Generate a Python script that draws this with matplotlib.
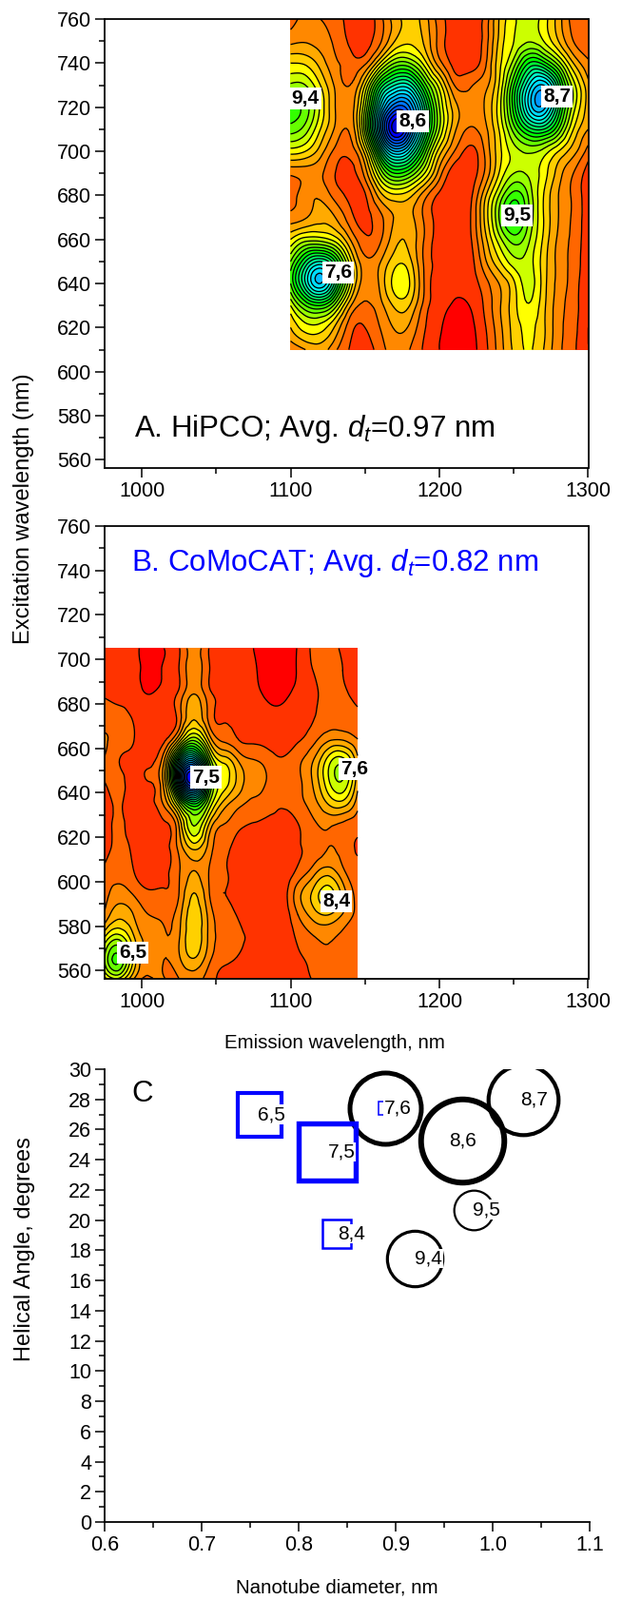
import matplotlib
matplotlib.use("Agg")
import matplotlib.pyplot as plt
import matplotlib.tri as mtri
import numpy as np
from matplotlib.ticker import MultipleLocator

plt.rcParams['font.family'] = ['Liberation Sans', 'DejaVu Sans']
plt.rcParams['mathtext.fontset'] = 'custom'
plt.rcParams['mathtext.rm'] = 'Liberation Sans'
plt.rcParams['mathtext.it'] = 'Liberation Sans:italic'

W, H = 654, 1682

# panel A, intensity (level number)
a_x = [1100, 1110, 1120, 1130, 1140, 1150, 1160, 1170, 1180, 1190, 1200,
       1210, 1220, 1230, 1240, 1250, 1260, 1270, 1280, 1290, 1300]
a_y = [760, 750, 740, 730, 720, 710, 700, 690, 680, 670, 660, 650, 640, 630, 620, 610]
a_z = [
    [2.5, 3.3, 3.0, 2.5, 1.6, 1.4, 2.6, 4.5, 5.3, 4.5, 2.5, 1.6, 1.4, 2.2, 5.0, 6.8, 7.6, 6.5, 4.5, 2.6, 2.2],
    [3.7, 3.9, 3.5, 2.8, 1.8, 1.6, 2.8, 5.0, 5.8, 4.8, 2.6, 1.5, 1.3, 2.3, 5.2, 7.0, 7.9, 7.0, 5.0, 3.0, 2.4],
    [6.0, 5.8, 4.6, 3.2, 2.5, 2.8, 6.0, 9.0, 9.0, 6.5, 3.4, 1.7, 1.5, 2.6, 5.6, 8.5, 12.0, 11.5, 8.5, 5.0, 3.2],
    [8.2, 8.0, 6.0, 3.8, 3.0, 6.0, 12.0, 15.0, 15.0, 10.5, 6.5, 3.0, 2.8, 3.6, 6.0, 11.0, 16.0, 18.0, 13.0, 7.5, 4.3],
    [10.5, 9.5, 6.8, 4.0, 3.4, 8.0, 16.0, 21.0, 20.0, 14.0, 8.0, 4.5, 3.3, 4.0, 6.5, 11.5, 17.0, 18.5, 13.0, 7.5, 4.5],
    [9.5, 8.5, 6.0, 3.8, 3.2, 8.5, 18.0, 24.5, 21.0, 14.0, 8.0, 4.3, 2.9, 3.6, 6.0, 9.5, 12.5, 13.0, 10.0, 6.0, 4.0],
    [6.5, 6.0, 4.5, 2.7, 2.4, 5.5, 13.0, 18.0, 16.0, 10.5, 5.5, 3.0, 1.7, 3.0, 5.6, 7.5, 8.2, 7.6, 6.0, 4.4, 2.6],
    [3.2, 3.4, 3.2, 2.0, 1.7, 3.4, 8.0, 11.0, 10.0, 7.0, 3.5, 1.4, 1.3, 3.0, 6.0, 8.0, 7.8, 6.5, 4.5, 3.0, 1.5],
    [2.5, 3.5, 3.8, 2.6, 1.7, 1.9, 4.5, 5.8, 5.3, 3.4, 1.8, 1.3, 1.6, 4.5, 8.0, 10.5, 8.8, 6.0, 4.0, 2.8, 1.2],
    [3.4, 3.9, 4.6, 4.0, 2.4, 1.7, 2.7, 4.1, 4.3, 2.8, 1.7, 1.4, 1.8, 5.0, 9.0, 11.5, 9.0, 6.0, 4.0, 2.8, 1.3],
    [6.0, 7.5, 7.5, 6.5, 4.0, 2.2, 2.8, 4.6, 4.7, 2.9, 1.6, 1.3, 1.7, 4.4, 7.5, 9.5, 8.2, 5.8, 3.8, 2.7, 1.2],
    [9.0, 13.0, 15.0, 12.0, 6.5, 3.3, 3.9, 5.6, 5.3, 2.8, 1.7, 1.3, 1.5, 3.6, 5.8, 7.6, 7.5, 5.5, 3.7, 2.6, 1.2],
    [10.0, 15.0, 18.0, 13.5, 7.0, 3.4, 4.2, 6.4, 6.0, 2.9, 1.5, 1.2, 1.4, 2.5, 4.0, 5.8, 7.4, 5.5, 3.7, 2.5, 1.1],
    [7.0, 10.0, 11.0, 8.5, 4.2, 2.8, 3.6, 5.2, 5.0, 2.6, 1.3, 0.9, 1.0, 2.1, 3.8, 5.6, 6.9, 5.3, 3.5, 2.4, 1.1],
    [5.0, 6.5, 6.5, 4.8, 2.4, 2.0, 3.0, 4.1, 3.8, 2.1, 1.1, 0.6, 0.7, 1.8, 3.6, 5.4, 6.2, 5.2, 3.4, 2.3, 1.0],
    [3.2, 4.0, 4.5, 3.2, 1.9, 1.3, 2.6, 3.3, 3.0, 1.8, 1.0, 0.5, 0.6, 1.6, 3.4, 5.2, 6.1, 5.0, 3.3, 2.2, 1.0],
]

# panel B
b_x = [975, 985, 995, 1005, 1015, 1025, 1035, 1045, 1055, 1065, 1075, 1085,
       1095, 1105, 1115, 1125, 1135, 1145]
b_y = [705, 695, 685, 675, 665, 655, 645, 635, 625, 615, 605, 595, 585, 575, 565, 555]
b_z = [
    [1.5, 1.5, 1.3, 0.5, 1.0, 1.9, 3.5, 2.0, 1.4, 1.2, 1.0, 0.6, 0.4, 1.1, 2.2, 2.5, 1.8, 1.5],
    [1.5, 1.5, 1.3, 0.7, 1.1, 2.0, 3.6, 2.1, 1.5, 1.3, 1.1, 0.6, 0.5, 1.1, 2.0, 2.6, 2.0, 1.6],
    [1.9, 1.7, 1.4, 0.95, 1.3, 2.2, 3.9, 2.3, 1.7, 1.4, 1.2, 0.8, 0.8, 1.2, 1.7, 2.4, 2.2, 1.7],
    [2.4, 2.3, 1.8, 1.4, 1.5, 2.5, 4.8, 2.7, 1.9, 1.6, 1.4, 1.2, 1.2, 1.5, 1.9, 2.4, 2.5, 2.2],
    [3.1, 2.6, 2.0, 1.5, 1.7, 4.5, 8.0, 4.5, 2.6, 1.9, 1.7, 1.5, 1.5, 1.8, 2.5, 3.5, 3.6, 2.9],
    [2.9, 2.0, 1.7, 1.8, 3.8, 13.0, 17.0, 9.0, 5.5, 3.8, 3.0, 2.5, 2.1, 2.7, 3.9, 6.3, 7.3, 4.2],
    [2.0, 2.3, 1.6, 2.0, 4.5, 16.0, 23.0, 11.0, 6.5, 4.6, 3.5, 2.9, 2.5, 2.8, 4.1, 6.7, 7.9, 4.3],
    [1.5, 2.1, 1.4, 1.6, 3.2, 8.0, 12.0, 8.0, 4.6, 3.3, 2.7, 2.4, 2.1, 2.6, 3.5, 5.0, 5.5, 3.4],
    [1.3, 2.2, 1.4, 1.3, 1.8, 4.0, 8.0, 4.8, 2.9, 2.2, 1.9, 1.7, 1.7, 1.95, 2.7, 3.1, 2.7, 2.3],
    [1.5, 2.3, 1.7, 1.2, 1.6, 3.3, 5.2, 3.6, 2.3, 1.6, 1.4, 1.2, 1.2, 1.9, 2.3, 3.0, 2.6, 1.9],
    [2.2, 2.6, 1.95, 1.3, 1.7, 2.9, 4.0, 3.0, 2.1, 1.6, 1.3, 1.1, 1.2, 2.2, 3.4, 4.4, 3.2, 2.3],
    [2.6, 3.4, 2.8, 2.15, 2.1, 3.0, 5.0, 3.1, 2.0, 1.7, 1.3, 1.2, 1.5, 3.6, 5.2, 6.5, 4.6, 2.5],
    [3.2, 4.7, 3.9, 3.0, 2.8, 3.6, 5.6, 3.7, 2.4, 1.9, 1.4, 1.2, 1.4, 3.0, 4.4, 5.0, 3.9, 2.7],
    [6.0, 7.5, 5.0, 3.6, 3.1, 3.9, 5.7, 3.8, 2.7, 2.2, 1.8, 1.3, 1.3, 2.2, 2.9, 3.2, 2.7, 2.2],
    [8.0, 10.0, 5.5, 3.4, 3.0, 3.8, 4.9, 3.3, 2.2, 1.9, 1.5, 1.3, 1.3, 1.8, 2.3, 2.8, 2.4, 2.1],
    [4.8, 5.8, 3.4, 2.7, 3.1, 2.9, 3.5, 2.4, 1.95, 1.7, 1.4, 1.2, 1.3, 1.7, 2.0, 2.3, 2.2, 2.1],
]

band_colors = ['#ff0000', '#ff3300', '#ff6600', '#ff8800', '#ffaa00', '#ffd000', '#ffff00',
               '#ccff00', '#99ff00', '#66ff00', '#33ff00', '#00ff00', '#00ff33', '#00ff66',
               '#00ff99', '#00ffcc', '#00ffff', '#00ddff', '#00bbff', '#0099ff', '#0077ff',
               '#0055ff', '#0033ff', '#0000ff', '#0000dd']

a_names = ['9,4', '8,6', '8,7', '9,5', '7,6']
a_name_x = [1110, 1182, 1279, 1252, 1132]
a_name_y = [724, 713.6, 725, 671, 645]
b_names = ['7,5', '7,6', '8,4', '6,5']
b_name_x = [1043.3, 1142.7, 1130.7, 994]
b_name_y = [647, 650.6, 591, 568]

# panel C
circle_names = ['7,6', '8,6', '8,7', '9,5', '9,4']
circle_d = [0.889, 0.969, 1.031, 0.98, 0.92]
circle_angle = [27.4, 25.3, 28.0, 20.7, 17.45]
circle_size = [54, 63, 53, 30, 42]
circle_lw = [3.6, 4.3, 3.0, 1.6, 2.3]
square_names = ['6,5', '7,5', '8,4', '7,6']
square_d = [0.76, 0.829, 0.839, 0.889]
square_angle = [27.0, 24.5, 19.1, 27.4]
square_size = [33, 43, 21, 10]
square_lw = [3.0, 3.9, 1.8, 1.1]
c_label_x = [0.902, 0.969, 1.043, 0.994, 0.934, 0.772, 0.844, 0.854, 0.902]
c_label_y = [27.4, 25.3, 28.0, 20.7, 17.45, 27.0, 24.5, 19.1, 27.4]


def axes_px(left, top, right, bottom):
    return fig.add_axes([left / W, 1 - bottom / H, (right - left) / W, (bottom - top) / H])


def contour_panel(ax, x, y, z):
    xx, yy = np.meshgrid(x, y)
    tri = mtri.Triangulation(xx.ravel(), yy.ravel())
    refiner = mtri.UniformTriRefiner(tri)
    fine, fine_z = refiner.refine_field(np.array(z).ravel(), subdiv=3)
    levels = np.arange(0, 26)
    ax.tricontourf(fine, np.clip(fine_z, 0.01, 24.9), levels=levels, colors=band_colors)
    ax.tricontour(fine, fine_z, levels=levels[1:], colors='black', linewidths=0.95)


def style_map(ax):
    ax.set_xlim(975, 1300)
    ax.set_ylim(556.3, 760)
    ax.xaxis.set_major_locator(MultipleLocator(100))
    ax.xaxis.set_minor_locator(MultipleLocator(50))
    ax.yaxis.set_major_locator(MultipleLocator(20))
    ax.yaxis.set_minor_locator(MultipleLocator(10))
    finish(ax)


def finish(ax):
    ax.tick_params(which='major', length=7, width=1.1, labelsize=15.5, pad=3)
    ax.tick_params(which='minor', length=4, width=1.1)
    for s in ax.spines.values():
        s.set_linewidth(1.3)


fig = plt.figure(figsize=(W / 100, H / 100), dpi=100)

ax_a = axes_px(110, 20, 618.5, 492)
contour_panel(ax_a, a_x, a_y, a_z)
style_map(ax_a)
for name, tx, ty in zip(a_names, a_name_x, a_name_y):
    ax_a.text(tx, ty, name, fontsize=15, fontweight='bold', ha='center', va='center',
              bbox=dict(facecolor='white', edgecolor='none', pad=1.5), zorder=5)
ax_a.text(141 / W, 1 - 451 / H, 'A. HiPCO; Avg. $d_t$=0.97 nm', transform=fig.transFigure,
          fontsize=22.5, va='center')

ax_b = axes_px(110, 553, 618.5, 1029)
contour_panel(ax_b, b_x, b_y, b_z)
style_map(ax_b)
for name, tx, ty in zip(b_names, b_name_x, b_name_y):
    ax_b.text(tx, ty, name, fontsize=15, fontweight='bold', ha='center', va='center',
              bbox=dict(facecolor='white', edgecolor='none', pad=1.5), zorder=5)
ax_b.text(138 / W, 1 - 592 / H, 'B. CoMoCAT; Avg. $d_t$=0.82 nm', transform=fig.transFigure,
          fontsize=22.5, va='center', color='#0000ff')

ax_c = axes_px(110, 1124, 620, 1600)
for dx, ang, size, lw in zip(circle_d, circle_angle, circle_size, circle_lw):
    ax_c.plot([dx], [ang], 'o', ms=size, mfc='none', mec='black', mew=lw)
for dx, ang, size, lw in zip(square_d, square_angle, square_size, square_lw):
    ax_c.plot([dx], [ang], 's', ms=size, mfc='none', mec='#0000ff', mew=lw)
for name, tx, ty in zip(circle_names + square_names, c_label_x, c_label_y):
    ax_c.text(tx, ty, name, fontsize=15, ha='center', va='center',
              bbox=dict(facecolor='white', edgecolor='none', pad=0.5), zorder=5)
ax_c.set_xlim(0.6, 1.1)
ax_c.set_ylim(0, 30)
ax_c.xaxis.set_major_locator(MultipleLocator(0.1))
ax_c.xaxis.set_minor_locator(MultipleLocator(0.05))
ax_c.yaxis.set_major_locator(MultipleLocator(2))
ax_c.yaxis.set_minor_locator(MultipleLocator(1))
ax_c.spines['top'].set_visible(False)
ax_c.spines['right'].set_visible(False)
finish(ax_c)
ax_c.text(150 / W, 1 - 1150 / H, 'C', transform=fig.transFigure, fontsize=22.5,
          ha='center', va='center')

fig.text(25 / W, 1 - 535 / H, 'Excitation wavelength (nm)', rotation=90, fontsize=17,
         ha='center', va='center')
fig.text(352 / W, 1 - 1096 / H, 'Emission wavelength, nm', fontsize=14.8, ha='center', va='center')
fig.text(26 / W, 1 - 1313 / H, 'Helical Angle, degrees', rotation=90, fontsize=17,
         ha='center', va='center')
fig.text(354 / W, 1 - 1669 / H, 'Nanotube diameter, nm', fontsize=14.8, ha='center', va='center')

fig.savefig('out.png', dpi=100)
